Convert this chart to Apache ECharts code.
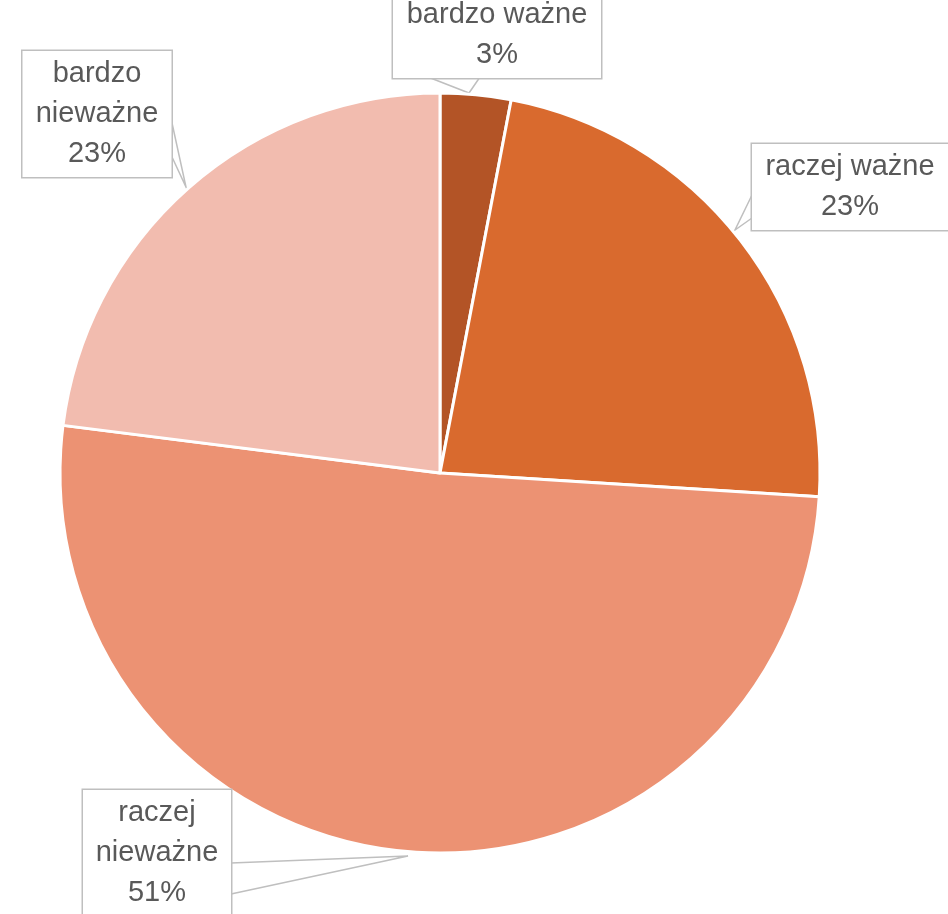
<!DOCTYPE html>
<html>
<head>
<meta charset="utf-8">
<script src="https://cdn.jsdelivr.net/npm/echarts@6/dist/echarts.min.js"></script>
<style>
  html, body { margin: 0; padding: 0; background: #ffffff; }
  #chart { width: 948px; height: 914px; }
</style>
</head>
<body>
<div id="chart"></div>
<script>
// Answer categories and their shares (percent)
const categories = ['bardzo ważne', 'raczej ważne', 'raczej nieważne', 'bardzo nieważne'];
const shares = [3, 23, 51, 23];
const sliceColors = ['#B35426', '#D96A2E', '#EC9273', '#F2BCAF'];

// Callout boxes: centre, text width, and the pointer wedge (base A, tip, base B)
const callouts = [
  { cx: 497, cy: 35,  w: 188, pts: [[428, 77], [469, 93], [480, 77]] },
  { cx: 850, cy: 187, w: 176, pts: [[752, 195], [735, 230], [752, 218]] },
  { cx: 157, cy: 853, w: 128, pts: [[231, 863], [408, 856], [231, 894]] },
  { cx: 97,  cy: 114, w: 129, pts: [[172, 123], [186, 187], [172, 157]] }
];

// Long names are split over two lines inside their callouts
function labelText(p) {
  const name = p.name.length > 12 ? p.name.replace(' ', '\n') : p.name;
  return name + '\n' + Math.round(p.percent) + '%';
}

const chart = echarts.init(document.getElementById('chart'), null, { renderer: 'canvas' });

chart.setOption({
  animation: false,
  backgroundColor: '#ffffff',
  series: [{
    type: 'pie',
    center: [440, 473],
    radius: [0, 380],
    startAngle: 90,
    clockwise: true,
    avoidLabelOverlap: false,
    itemStyle: { borderColor: '#ffffff', borderWidth: 3 },
    label: {
      show: true,
      position: 'outside',
      formatter: labelText,
      fontFamily: 'Liberation Sans, Arial, sans-serif',
      fontSize: 29,
      lineHeight: 40,
      color: '#595959',
      align: 'center',
      verticalAlign: 'middle',
      overflow: 'none',
      backgroundColor: '#ffffff',
      borderColor: '#BFBFBF',
      borderWidth: 1.5,
      padding: [6, 10, 0, 10]
    },
    labelLine: {
      show: true,
      smooth: false,
      lineStyle: { color: '#BFBFBF', width: 1.5 }
    },
    labelLayout: function (params) {
      const c = callouts[params.dataIndex];
      return {
        x: c.cx,
        y: c.cy,
        align: 'center',
        verticalAlign: 'middle',
        labelLinePoints: c.pts
      };
    },
    data: categories.map((name, i) => ({
      name: name,
      value: shares[i],
      itemStyle: { color: sliceColors[i] },
      label: { width: callouts[i].w }
    }))
  }]
});
</script>
</body>
</html>
